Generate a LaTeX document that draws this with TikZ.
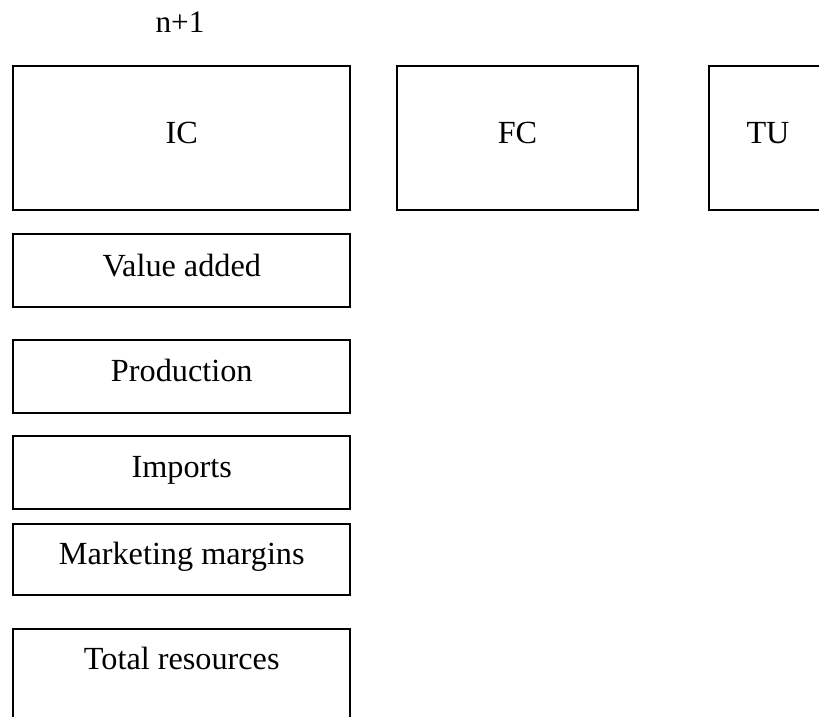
\documentclass[tikz,border=0pt]{standalone}
\usepackage{fontspec}
\setmainfont{Liberation Serif}
\usetikzlibrary{positioning}
\newcommand{\cellfont}{\fontsize{12.9pt}{15pt}\selectfont}
\newcommand{\widthrow}{134.6pt}
\newcommand{\heighthead}{57.8pt}
\tikzset{
    cell/.style={draw, rectangle, line width=0.8pt, font=\cellfont, text height=8.6pt, text depth=4.2pt, inner sep=0pt},
    head/.style={cell, minimum height=\heighthead},
    row/.style={cell, minimum width=\widthrow, minimum height=29pt},
}
\begin{document}
\begin{tikzpicture}[x=0.4pt, y=-0.4pt]
    \useasboundingbox (0,0) rectangle (819,717);
    \clip (0,0) rectangle (819,717);

    \node[font=\fontsize{12.5pt}{15pt}\selectfont, anchor=base] (period) at (180,33) {n+1};

    % top row of uses
    \node[head, minimum width=\widthrow] (ic) at (181.75,138.25) {IC};
    \node[head, minimum width=96.4pt, right=18pt of ic] (fc) {FC};
    \node[head, minimum width=47.2pt, right=27.6pt of fc] (tu) {TU};

    % column of resources
    \node[row, minimum height=29.2pt, below=8.8pt of ic] (value-added) {Value added};
    \node[row, minimum height=28.8pt, below=12.4pt of value-added] (production) {Production};
    \node[row, minimum height=29.2pt, below=8.4pt of production] (imports) {Imports};
    \node[row, minimum height=28.4pt, below=5.2pt of imports] (margins) {Marketing margins};
    \node[row, below=12.8pt of margins, text height=16.4pt, text depth=40pt] (total) {Total resources};
\end{tikzpicture}
\end{document}
